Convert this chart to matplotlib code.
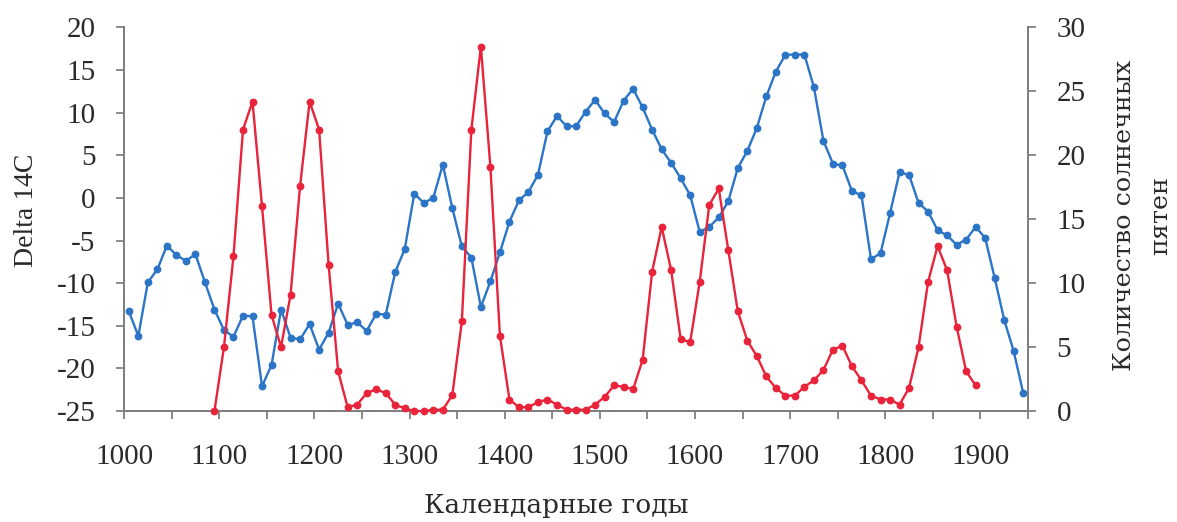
import matplotlib
matplotlib.use("Agg")
import matplotlib.pyplot as plt
import numpy as np

# ==================== Data ====================

years_c14 = list(range(1005, 1946, 10))
delta_14c = [
    -13.3, -16.2, -9.9, -8.4, -5.6, -6.7, -7.4, -6.6, -9.9, -13.1,
    -15.5, -16.3, -13.8, -13.9, -22.1, -19.6, -13.1, -16.4, -16.6, -14.8,
    -17.8, -15.8, -12.4, -14.9, -14.6, -15.6, -13.6, -13.7, -8.7, -6.0,
    0.5, -0.6, 0.0, 3.9, -1.2, -5.7, -7.0, -12.8, -9.8, -6.4,
    -2.8, -0.3, 0.7, 2.7, 7.8, 9.6, 8.4, 8.4, 10.1, 11.5,
    9.9, 8.9, 11.4, 12.8, 10.6, 8.0, 5.7, 4.1, 2.3, 0.3,
    -4.0, -3.4, -2.3, -0.4, 3.5, 5.5, 8.2, 11.9, 14.8, 16.8,
    16.8, 16.8, 13.0, 6.7, 4.0, 3.8, 0.8, 0.3, -7.2, -6.5,
    -1.8, 3.0, 2.7, -0.6, -1.6, -3.8, -4.4, -5.5, -4.9, -3.4,
    -4.7, -9.4, -14.3, -18.0, -22.9,
]

years_spots = list(range(1095, 1896, 10))
sunspots = [
    0.0, 5.0, 12.1, 22.0, 24.2, 16.0, 7.5, 5.0, 9.1, 17.6,
    24.2, 22.0, 11.4, 3.1, 0.3, 0.5, 1.4, 1.7, 1.4, 0.5,
    0.2, 0.0, 0.0, 0.1, 0.1, 1.25, 7.0, 22.0, 28.5, 19.1,
    5.9, 0.9, 0.3, 0.3, 0.7, 0.9, 0.5, 0.1, 0.1, 0.1,
    0.5, 1.1, 2.0, 1.9, 1.7, 4.0, 10.9, 14.4, 11.0, 5.6,
    5.4, 10.1, 16.1, 17.4, 12.6, 7.8, 5.5, 4.3, 2.7, 1.8,
    1.2, 1.2, 1.9, 2.4, 3.2, 4.8, 5.1, 3.5, 2.4, 1.2,
    0.9, 0.9, 0.5, 1.8, 5.0, 10.1, 12.9, 11.0, 6.6, 3.1,
    2.0,
]

x_ticks = list(range(1000, 1951, 50))
x_labels = [str(y) if y % 100 == 0 and y < 1950 else "" for y in x_ticks]
left_ticks = list(range(-25, 21, 5))
right_ticks = list(range(0, 31, 5))

# ==================== Plot ====================

blue = "#2b74c6"
red = "#e8233a"
axis_col = "#7f7f7f"
text_col = "#2a2a2a"

plt.rcParams.update({
    "font.family": "Liberation Serif",
    "font.size": 21,
    "axes.unicode_minus": False,
})

fig = plt.figure(figsize=(11.77, 5.22), dpi=100)
ax = fig.add_axes([0.1054, 0.2126, 0.768, 0.735])
ax2 = ax.twinx()

ax.plot(years_c14, delta_14c, color=blue, lw=1.7, marker="o", ms=4.6,
        clip_on=False, zorder=3)
ax2.plot(years_spots, sunspots, color=red, lw=1.7, marker="o", ms=4.6,
         clip_on=False, zorder=3)

ax.set_xlim(1000, 1950)
ax.set_ylim(-25, 20)
ax2.set_ylim(0, 30)

ax.set_xticks(x_ticks)
ax.set_xticklabels(x_labels)
ax.set_yticks(left_ticks)
ax2.set_yticks(right_ticks)

for a in (ax, ax2):
    a.spines["top"].set_visible(False)
    for s in ("left", "right", "bottom"):
        a.spines[s].set_color(axis_col)
        a.spines[s].set_linewidth(1.3)
    a.tick_params(axis="both", direction="out", length=5.5, width=1.3,
                  color=axis_col, labelcolor=text_col, labelsize=21)
ax.tick_params(axis="x", pad=18)
ax.tick_params(axis="y", pad=15)
ax2.tick_params(axis="y", pad=15)

ax.set_xlabel("Календарные годы", fontsize=19, family="DejaVu Serif",
              color=text_col, va="center", ha="center")
ax.xaxis.set_label_coords(0.478, -0.247)
ax.set_ylabel("Delta 14C", fontsize=20, color=text_col,
              va="center", ha="center")
ax.yaxis.set_label_coords(-0.108, 0.523)
ax2.set_ylabel("Количество солнечных\nпятен", fontsize=18.3,
               family="DejaVu Serif", color=text_col, linespacing=1.7,
               va="center", ha="center")
ax2.yaxis.set_label_coords(1.127, 0.51)

ax2.set_zorder(ax.get_zorder() + 1)
ax2.patch.set_visible(False)

fig.savefig("out.png", dpi=100)
